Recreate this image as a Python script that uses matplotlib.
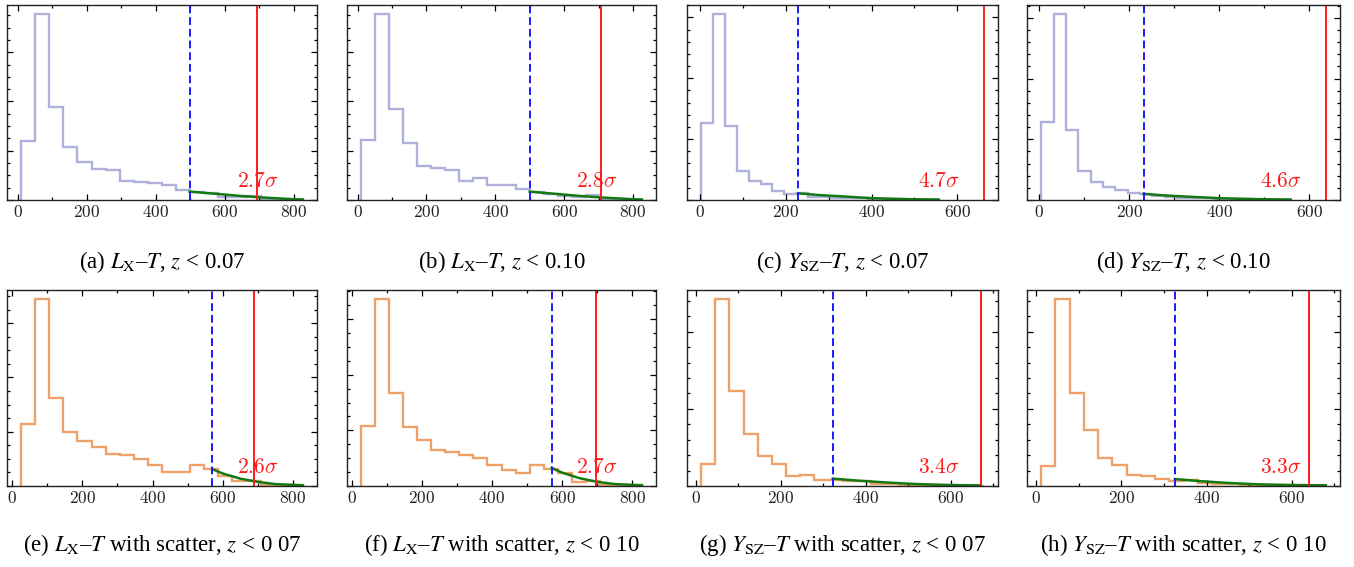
import numpy as np
import matplotlib
matplotlib.use('Agg')
import matplotlib.pyplot as plt
from matplotlib.ticker import MultipleLocator, AutoMinorLocator

plt.rcParams['axes.formatter.use_mathtext'] = True

# --- données ---
labels = ['a', 'b', 'c', 'd', 'e', 'f', 'g', 'h']
captions = [
    r'(a) $L_{\rm X}$–$T$, $z$ < 0.07',
    r'(b) $L_{\rm X}$–$T$, $z$ < 0.10',
    r'(c) $Y_{\rm SZ}$–$T$, $z$ < 0.07',
    r'(d) $Y_{\rm SZ}$–$T$, $z$ < 0.10',
    r'(e) $L_{\rm X}$–$T$ with scatter, $z$ < 0 07',
    r'(f) $L_{\rm X}$–$T$ with scatter, $z$ < 0 10',
    r'(g) $Y_{\rm SZ}$–$T$ with scatter, $z$ < 0 07',
    r'(h) $Y_{\rm SZ}$–$T$ with scatter, $z$ < 0 10',
]
sigma_vals = ['2.7', '2.8', '4.7', '4.6', '2.6', '2.7', '3.4', '3.3']

hist_lo = [10, 10, 2.5, 4, 25.6, 25.6, 12, 12]
hist_hi = [826, 826, 557, 554, 828, 828, 678, 680]

h_a = [2.41, 7.54, 3.78, 2.16, 1.53, 1.26, 1.22, 0.78, 0.74, 0.70,
       0.62, 0.41, 0.34, 0.27, 0.12, 0.12, 0.15, 0.05, 0.01, 0.01]
h_b = [2.43, 7.54, 3.69, 2.30, 1.39, 1.30, 1.22, 0.76, 0.88, 0.62,
       0.62, 0.43, 0.32, 0.24, 0.18, 0.14, 0.20, 0.03, 0.0, 0.01]
h_c = [1.26, 3.05, 1.21, 0.47, 0.31, 0.26, 0.14, 0.10, 0.11, 0.055,
       0.044, 0.04, 0.035, 0.03, 0.02, 0.015, 0.01, 0.008, 0.006, 0.005]
h_d = [1.28, 3.06, 1.16, 0.47, 0.30, 0.21, 0.16, 0.11, 0.10, 0.066,
       0.05, 0.04, 0.035, 0.03, 0.02, 0.015, 0.01, 0.008, 0.006, 0.005]
h_e = [2.27, 6.88, 3.23, 2.00, 1.65, 1.44, 1.19, 1.14, 0.99, 0.79,
       0.52, 0.52, 0.77, 0.62, 0.37, 0.20, 0.20, 0.05, 0.025, 0.025]
h_f = [2.17, 6.71, 3.34, 2.13, 1.65, 1.29, 1.23, 1.11, 1.01, 0.75,
       0.59, 0.48, 0.75, 0.60, 0.45, 0.14, 0.17, 0.05, 0.02, 0.02]
h_g = [0.283, 2.42, 1.226, 0.67, 0.39, 0.283, 0.13, 0.14, 0.074, 0.083,
       0.06, 0.065, 0.03, 0.022, 0.017, 0.013, 0.01, 0.008, 0.006, 0.005]
h_h = [0.26, 2.42, 1.20, 0.72, 0.365, 0.27, 0.148, 0.126, 0.096, 0.061,
       0.083, 0.043, 0.03, 0.022, 0.017, 0.013, 0.01, 0.008, 0.01, 0.013]
heights = [h_a, h_b, h_c, h_d, h_e, h_f, h_g, h_h]

# queue ajustée (vert)
tail_x = [
    [498, 550, 600, 650, 700, 750, 800, 826],
    [500, 550, 600, 650, 700, 750, 800, 826],
    [229, 280, 330, 400, 450, 500, 557],
    [232, 280, 330, 400, 450, 500, 559],
    [570, 600, 650, 700, 750, 800, 828],
    [570, 600, 650, 700, 750, 800, 828],
    [322, 380, 450, 520, 600, 670],
    [326, 380, 450, 520, 600, 680],
]
tail_y = [
    [0.34, 0.28, 0.22, 0.16, 0.11, 0.07, 0.03, 0.02],
    [0.34, 0.28, 0.22, 0.16, 0.11, 0.07, 0.03, 0.02],
    [0.11, 0.08, 0.06, 0.03, 0.02, 0.012, 0.008],
    [0.10, 0.075, 0.055, 0.03, 0.02, 0.012, 0.008],
    [0.62, 0.46, 0.27, 0.15, 0.07, 0.04, 0.025],
    [0.65, 0.48, 0.28, 0.15, 0.07, 0.04, 0.025],
    [0.096, 0.07, 0.045, 0.025, 0.012, 0.008],
    [0.09, 0.065, 0.04, 0.022, 0.012, 0.008],
]
cut_x = [498, 500, 229, 232, 570, 570, 322, 326]     # ligne bleue
obs_x = [694, 707, 662, 637, 689, 697, 671, 640]     # ligne rouge

# graduations y : pas majeur, nb de divisions mineures
y_major = [2, 2, 1, 1, 2, 2, 1, 1]
y_minor = [4, 4, 5, 5, 4, 4, 5, 5]

# --- mise en page (pixels de la figure d'origine) ---
W, H = 1354, 567
col_px = [(7, 317), (347, 656), (687, 998), (1027, 1340)]
row_px = [(5, 200), (290, 486)]
cap_y = [262, 545]

lavender = '#b0b0dc'
orange = '#eea26a'

fig = plt.figure(figsize=(W / 100, H / 100), dpi=100)

for i in range(8):
    r, c = divmod(i, 4)
    x0, x1 = col_px[c]
    y0, y1 = row_px[r]
    ax = fig.add_axes([x0 / W, (H - y1) / H, (x1 - x0) / W, (y1 - y0) / H])

    vals = heights[i]
    edges = np.linspace(hist_lo[i], hist_hi[i], len(vals) + 1)
    col = lavender if r == 0 else orange
    ax.stairs(vals, edges, color=col, lw=1.7, baseline=0)
    ax.plot(tail_x[i], tail_y[i], color='#127a12', lw=1.8)
    ax.axvline(cut_x[i], color='#1a1aff', lw=1.4, ls=(0, (4, 2)))
    ax.axvline(obs_x[i], color='#ff1a1a', lw=1.4)

    lo = min(edges[0], tail_x[i][0])
    hi = max(edges[-1], tail_x[i][-1], obs_x[i])
    pad = 0.05 * (hi - lo)
    ax.set_xlim(lo - pad, hi + pad)
    ax.set_ylim(0, 1.05 * max(vals))

    ax.text(0.81, 0.095, r'$%s\sigma$' % sigma_vals[i], transform=ax.transAxes,
            ha='center', va='center', color='#ff1a1a', fontsize=15.5,
            math_fontfamily='cm')

    ax.xaxis.set_major_locator(MultipleLocator(200))
    ax.xaxis.set_minor_locator(MultipleLocator(100))
    ax.yaxis.set_major_locator(MultipleLocator(y_major[i]))
    ax.yaxis.set_minor_locator(AutoMinorLocator(y_minor[i]))
    ax.tick_params(which='both', direction='in', top=True, right=True,
                   labelleft=False, width=0.9)
    ax.tick_params(which='major', length=4)
    ax.tick_params(which='minor', length=2.2)
    ax.tick_params(axis='x', pad=3)
    for lab in ax.get_xticklabels():
        lab.set_fontfamily('cmr10')
        lab.set_fontsize(12.5)
        lab.set_color('#222222')
    for sp in ax.spines.values():
        sp.set_linewidth(1.0)
        sp.set_color('#222222')

    fig.text((x0 + x1) / 2 / W, (H - cap_y[r]) / H, captions[i],
             ha='center', va='center', fontsize=16.5,
             family='Liberation Serif', math_fontfamily='stix')

plt.savefig('out.png', dpi=100)
